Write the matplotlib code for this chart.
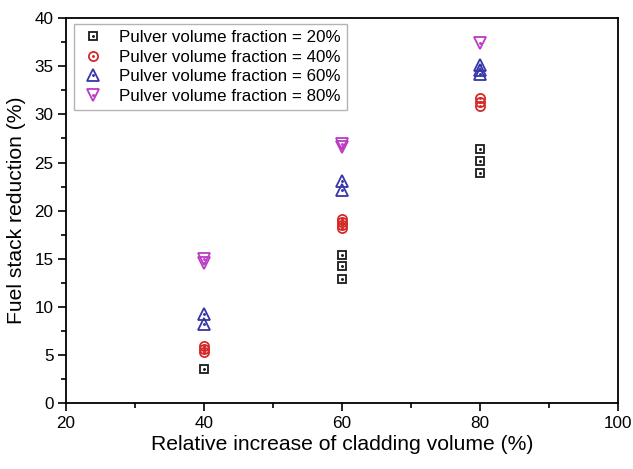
import matplotlib
matplotlib.use("Agg")
import matplotlib.pyplot as plt
from matplotlib.legend_handler import HandlerTuple
from matplotlib.ticker import MultipleLocator

plt.rcParams['font.family'] = ['Liberation Sans', 'DejaVu Sans']

# relative increase of cladding volume (%) for each group of runs
x_20 = [40, 60, 60, 60, 80, 80, 80]
y_20 = [3.6, 15.4, 14.3, 12.9, 26.4, 25.2, 23.9]

x_40 = [40, 40, 40, 60, 60, 60, 60, 80, 80, 80]
y_40 = [6.0, 5.6, 5.3, 19.1, 18.8, 18.5, 18.2, 31.7, 31.3, 30.9]

x_60 = [40, 40, 60, 60, 80, 80, 80]
y_60 = [9.3, 8.2, 23.1, 22.2, 35.1, 34.6, 34.2]

x_80 = [40, 40, 60, 60, 80]
y_80 = [15.0, 14.6, 26.9, 26.6, 37.4]

series = [
    (x_20, y_20, 's', '#1a1a1a', 6.2, 'Pulver volume fraction = 20%'),
    (x_40, y_40, 'o', '#d42a2a', 6.6, 'Pulver volume fraction = 40%'),
    (x_60, y_60, '^', '#3636a8', 8.0, 'Pulver volume fraction = 60%'),
    (x_80, y_80, 'v', '#bb3cc4', 8.0, 'Pulver volume fraction = 80%'),
]

fig = plt.figure(figsize=(6.33, 4.69), dpi=100)
ax = fig.add_axes([0.1043, 0.140, 0.872, 0.8215])

handles = []
labels = []
for xs, ys, mk, col, ms, lab in series:
    h1, = ax.plot(xs, ys, linestyle='none', marker=mk, markersize=ms,
                  markerfacecolor='none', markeredgecolor=col, markeredgewidth=1.3)
    # small dot in the centre of each open marker
    h2, = ax.plot(xs, ys, linestyle='none', marker='.', markersize=2.2, color=col)
    handles.append((h1, h2))
    labels.append(lab)

ax.set_xlim(20, 100)
ax.set_ylim(0, 40)
ax.xaxis.set_major_locator(MultipleLocator(20))
ax.xaxis.set_minor_locator(MultipleLocator(10))
ax.yaxis.set_major_locator(MultipleLocator(5))
ax.yaxis.set_minor_locator(MultipleLocator(2.5))

ax.tick_params(which='major', direction='out', length=6, width=1.2, labelsize=12.3, pad=3)
ax.tick_params(which='minor', direction='out', length=3.5, width=1.2)
ax.tick_params(top=False, right=False, which='both')
for sp in ax.spines.values():
    sp.set_linewidth(1.3)

ax.set_xlabel('Relative increase of cladding volume (%)', fontsize=15.2, labelpad=3)
ax.set_ylabel('Fuel stack reduction (%)', fontsize=15.2, labelpad=6)

leg = ax.legend(handles, labels, handler_map={tuple: HandlerTuple(ndivide=1)},
                loc='upper left', bbox_to_anchor=(0.014, 0.985), fontsize=12.2,
                frameon=True, fancybox=False, borderpad=0.35, labelspacing=0.28,
                handlelength=1.6, handletextpad=0.75, borderaxespad=0)
leg.get_frame().set_edgecolor('#a0a0a0')
leg.get_frame().set_linewidth(1.0)

fig.savefig('out.png', dpi=100)
